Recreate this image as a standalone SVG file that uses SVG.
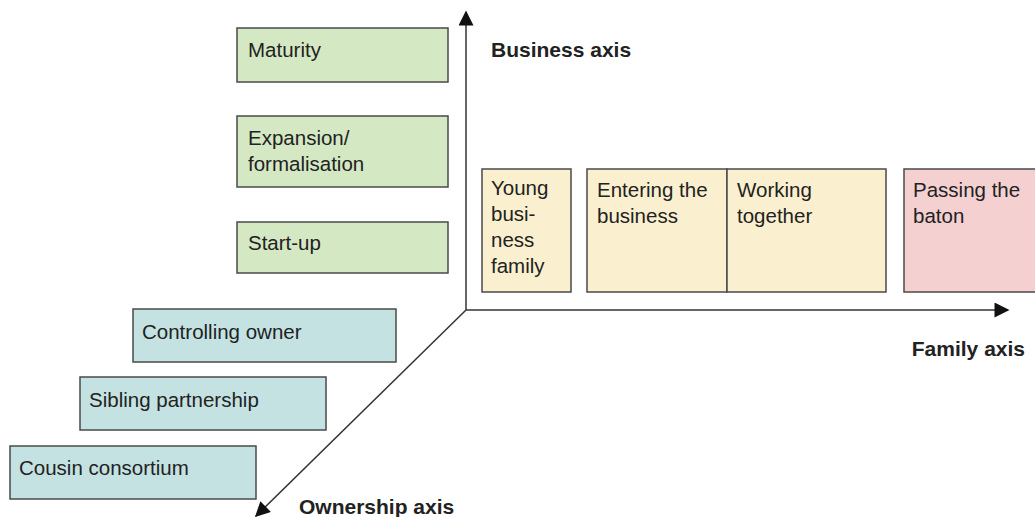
<svg xmlns="http://www.w3.org/2000/svg" width="1035" height="517" viewBox="0 0 1035 517">
<style>
.box{stroke:#4a4a4a;stroke-width:1.5}
.g{fill:#d5e8c4}
.t{fill:#c4e2e2}
.y{fill:#faf0cf}
.p{fill:#f4d0d1}
text{font-family:"Liberation Sans",Arial,sans-serif;font-size:20.5px;fill:#222}
.b{font-weight:bold;font-size:21px}
.ax{stroke:#333;stroke-width:1.5;fill:none}
</style>
<defs>
<marker id="ah" viewBox="0 0 10 10" refX="9" refY="5" markerWidth="16" markerHeight="15" markerUnits="userSpaceOnUse" orient="auto">
<path d="M0,0 L10,5 L0,10 z" fill="#111"/>
</marker>
</defs>
<g id="connectors">
<line class="ax" x1="466" y1="310" x2="466" y2="12" marker-end="url(#ah)"/>
<line class="ax" x1="466" y1="310" x2="1008" y2="310" marker-end="url(#ah)"/>
<line class="ax" x1="466" y1="310" x2="256" y2="516" marker-end="url(#ah)"/>
</g>
<g id="maturity"><rect class="box g" x="237" y="28" width="211" height="54"/><text x="248" y="57">Maturity</text></g>
<g id="expansion"><rect class="box g" x="237" y="116" width="211" height="71"/><text x="248" y="145">Expansion/</text><text x="248" y="171">formalisation</text></g>
<g id="startup"><rect class="box g" x="237" y="222" width="211" height="51"/><text x="248" y="250">Start-up</text></g>
<g id="young"><rect class="box y" x="482" y="169" width="89" height="123"/><text x="491" y="195">Young</text><text x="491" y="221">busi-</text><text x="491" y="247">ness</text><text x="491" y="273">family</text></g>
<g id="entering"><rect class="box y" x="587" y="169" width="140" height="123"/><text x="597" y="197">Entering the</text><text x="597" y="223">business</text></g>
<g id="working"><rect class="box y" x="727" y="169" width="159" height="123"/><text x="737" y="197">Working</text><text x="737" y="223">together</text></g>
<g id="passing"><rect class="box p" x="904" y="169" width="140" height="123"/><text x="913" y="197">Passing the</text><text x="913" y="223">baton</text></g>
<g id="controlling"><rect class="box t" x="133" y="309" width="263" height="53"/><text x="142" y="339">Controlling owner</text></g>
<g id="sibling"><rect class="box t" x="80" y="377" width="246" height="53"/><text x="89" y="407">Sibling partnership</text></g>
<g id="cousin"><rect class="box t" x="10" y="446" width="246" height="53"/><text x="19" y="475">Cousin consortium</text></g>
<g id="labels">
<text class="b" x="491" y="57">Business axis</text>
<text class="b" x="1025" y="356" text-anchor="end">Family axis</text>
<text class="b" x="299" y="514">Ownership axis</text>
</g>
</svg>
